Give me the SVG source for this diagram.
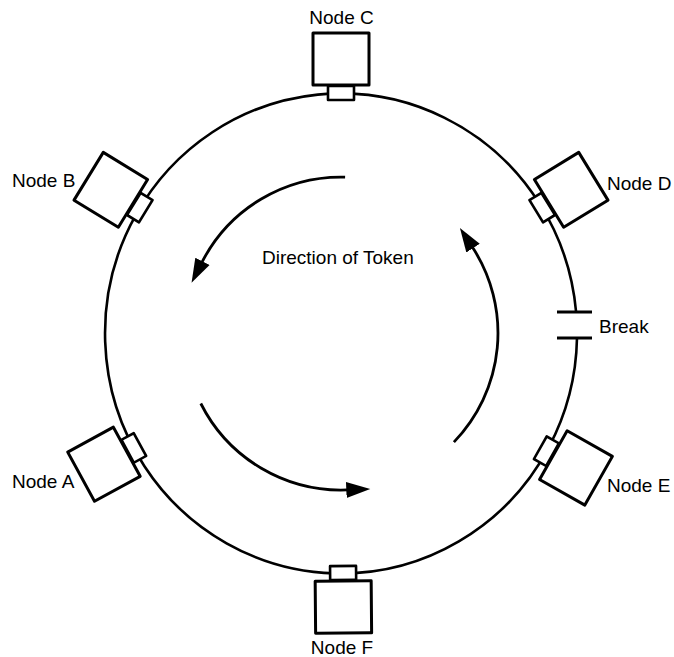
<svg xmlns="http://www.w3.org/2000/svg" width="674" height="657" viewBox="0 0 674 657">
  <style>
    .ring { fill: none; stroke: #000; stroke-width: 2.6; }
    .box { fill: #fff; stroke: #000; stroke-width: 3; stroke-linejoin: round; }
    .conn { fill: #fff; stroke: #000; stroke-width: 2.6; stroke-linejoin: round; }
    .lbl { font-family: "Liberation Sans", Arial, sans-serif; font-size: 19px; fill: #000; }
    .arc { fill: none; stroke: #000; stroke-width: 2.8; }
    .brk { stroke: #000; stroke-width: 3; }
  </style>
  <defs>
    <marker id="ah" markerUnits="userSpaceOnUse" markerWidth="26" markerHeight="18" refX="1" refY="9" orient="auto">
      <path d="M0,1 L24,9 L0,17 Z" fill="#000"/>
    </marker>
    <g id="nodeShape">
      <rect class="box" x="-28" y="-60" width="56" height="52"/>
      <rect class="conn" x="-13" y="-7" width="26" height="14"/>
    </g>
  </defs>

  <g id="ring">
    <path class="ring" d="M577,338 A236,240 0 1 1 576.1,312"/>
    <line class="brk" x1="557" y1="312" x2="592" y2="312"/>
    <line class="brk" x1="557" y1="338" x2="592" y2="338"/>
    <text class="lbl" x="599" y="333">Break</text>
  </g>

  <g id="connectors">
    <path class="arc" d="M345.1,177.1 A156,156 0 0 0 202,262.2" marker-end="url(#ah)"/>
    <path class="arc" d="M200.8,403.5 A157,157 0 0 0 347.3,489.9" marker-end="url(#ah)"/>
    <path class="arc" d="M453.9,442.1 A157,157 0 0 0 472.5,247.3" marker-end="url(#ah)"/>
    <text class="lbl" x="262" y="264">Direction of Token</text>
  </g>

  <g id="nodeC">
    <use href="#nodeShape" transform="translate(341,93) rotate(0)"/>
    <text class="lbl" x="341.5" y="24" text-anchor="middle">Node C</text>
  </g>
  <g id="nodeB">
    <use href="#nodeShape" transform="translate(139.8,207.6) rotate(-58.5)"/>
    <text class="lbl" x="12" y="187">Node B</text>
  </g>
  <g id="nodeD">
    <use href="#nodeShape" transform="translate(542.2,207.6) rotate(58.5)"/>
    <text class="lbl" x="607" y="190">Node D</text>
  </g>
  <g id="nodeA">
    <use href="#nodeShape" transform="translate(133.8,447.9) rotate(241.4)"/>
    <text class="lbl" x="12" y="488">Node A</text>
  </g>
  <g id="nodeE">
    <use href="#nodeShape" transform="translate(546.4,451.2) rotate(119.5)"/>
    <text class="lbl" x="607" y="492">Node E</text>
  </g>
  <g id="nodeF">
    <use href="#nodeShape" transform="translate(343.1,573) rotate(179.5)"/>
    <text class="lbl" x="342" y="654" text-anchor="middle">Node F</text>
  </g>
</svg>
